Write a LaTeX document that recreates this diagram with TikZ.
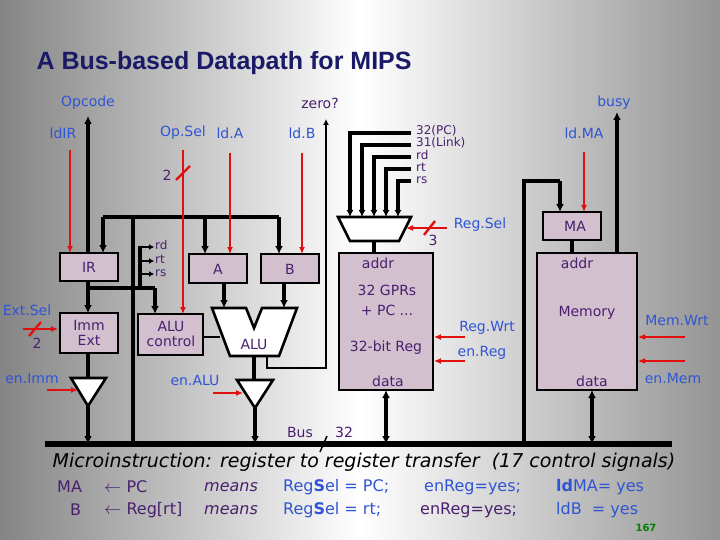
\documentclass[tikz,border=0pt]{standalone}
\usepackage{fontspec}
\setmainfont{DejaVu Sans}
\newfontfamily\titlefont{Liberation Sans}
\usetikzlibrary{arrows.meta}
\definecolor{lblue}{HTML}{2F55D4}
\definecolor{dpurp}{HTML}{4A1F6E}
\definecolor{boxf}{HTML}{D3C0CF}
\definecolor{sred}{HTML}{E01010}
\definecolor{ttl}{HTML}{1A1A66}
\begin{document}
\begin{tikzpicture}[x=1pt,y=-1pt,
  box/.style={draw=black,line width=2.6pt,fill=boxf},
  bl/.style={text=lblue,font=\fontsize{14}{14}\selectfont,inner sep=0},
  pl/.style={text=dpurp,font=\fontsize{14}{14}\selectfont,inner sep=0},
  sm/.style={text=dpurp,font=\fontsize{12}{12}\selectfont,inner sep=0,anchor=west},
  wire/.style={line width=3.4pt},
  warr/.style={line width=3.4pt,-{Latex[length=8pt,width=8pt]}},
  thin/.style={line width=1.8pt},
  rarr/.style={draw=sred,line width=1.2pt,-{Latex[length=7pt,width=6pt]}},
  slash/.style={draw=sred,line width=2.4pt}]
\useasboundingbox (0,0) rectangle (720,540);
\shade[left color=black!48,right color=black!42,middle color=white] (0,0) rectangle (720,540);
\node[anchor=west,text=ttl,font=\titlefont\bfseries\fontsize{25}{25}\selectfont] (title) at (33,63) {A Bus-based Datapath for MIPS};

% boxes
\draw[box] (60,253) rectangle (118,281); \node[pl] (ir) at (89,267) {IR};
\draw[box] (60,313) rectangle (118,353); \node[pl,align=center] (imm) at (89,333) {Imm\\[1pt]Ext};
\draw[box] (138,314) rectangle (203,355); \node[pl,align=center] (aluc) at (171,334) {ALU\\[1pt]control};
\draw[box] (189,254) rectangle (247,283); \node[pl] (a) at (218,269) {A};
\draw[box] (261,254) rectangle (319,283); \node[pl] (b) at (290,269) {B};
\draw[box] (339,253) rectangle (433,390);
\node[pl] (raddr) at (378,263) {addr};
\node[pl,align=center] (gpr) at (387,300) {32 GPRs\\[6pt]+ PC ...};
\node[pl] (r32) at (386,348) {32-bit Reg};
\node[pl] (rdata) at (388,381) {data};
\draw[box] (537,253) rectangle (637,390);
\node[pl] (maddr) at (577,263) {addr};
\node[pl] (mem) at (587,313) {Memory};
\node[pl] (mdata) at (592,381) {data};
\draw[box] (543,212) rectangle (601,240); \node[pl] (ma) at (575,226) {MA};

% ALU
\draw[line width=2.6pt,fill=white] (212,308) -- (246,308) -- (254,328) -- (262,308) -- (297,308) -- (279,356) -- (230,356) -- cycle;
\node[pl] (alu) at (254,344) {ALU};
% register mux
\draw[line width=2.6pt,fill=white] (338,217) -- (411,217) -- (399,241) -- (350,241) -- cycle;
% tristates
\draw[line width=2.6pt,fill=white] (71,378) -- (106,378) -- (88,406) -- cycle;
\draw[line width=2.6pt,fill=white] (237,380) -- (273,380) -- (255,408) -- cycle;

% bus
\draw[line width=6pt] (45,444) -- (672,444);
\node[pl] (bus) at (300,432) {Bus};
\node[pl] (b32) at (344,432) {32};
\draw[line width=1.5pt] (320,452) -- (327,436);

% IR connections
\draw[warr] (88,253) -- (88,116);
\node[bl] (opc) at (88,103) {Opcode};
\draw[wire] (133,444) -- (133,217);
\draw[wire] (103,217) -- (279,217);
\draw[warr] (103,217) -- (103,253);
\draw[warr] (205,217) -- (205,254);
\draw[warr] (279,217) -- (279,254);
\draw[warr] (88,281) -- (88,313);
\draw[wire] (88,288) -- (155,288);
\draw[warr] (155,288) -- (155,314);
\draw[wire] (140,288) -- (140,246);
\foreach \yy in {247,261,274} \draw[line width=2.4pt,-{Latex[length=5pt,width=6pt]}] (139,\yy) -- (154,\yy);
\node[sm] (rd1) at (155,245) {rd};
\node[sm] (rt1) at (155,259) {rt};
\node[sm] (rs1) at (155,273) {rs};
\draw[warr] (224,283) -- (224,308);
\draw[warr] (284,283) -- (284,308);
\draw[thin] (203,337) -- (220,337);
\draw[wire] (254,356) -- (254,380);
\draw[warr] (255,408) -- (255,444);
\draw[wire] (88,353) -- (88,378);
\draw[warr] (88,406) -- (88,444);
\draw[thin,-{Latex[length=6pt,width=6pt]}] (267,356) -- (267,368) -- (326,368) -- (326,119);
\node[pl] (zero) at (320,103) {zero?};

% control labels
\node[bl] (ldir) at (63,133) {ldIR}; \draw[rarr] (70,150) -- (70,253);
\node[bl] (opsel) at (183,133) {Op.Sel};
\draw[rarr] (183,150) -- (183,314);
\draw[slash] (176,180) -- (190,166); \node[pl] (two1) at (167,175) {2};
\node[bl] (lda) at (230,133) {ld.A}; \draw[rarr] (230,153) -- (230,254);
\node[bl] (ldb) at (302,133) {ld.B}; \draw[rarr] (302,153) -- (302,254);
\node[bl] (extsel) at (27,310) {Ext.Sel};
\draw[rarr] (23,329) -- (58,329); \draw[slash] (29,336) -- (41,322);
\node[pl] (two2) at (37,343) {2};
\node[bl] (enimm) at (32,378) {en.Imm}; \draw[rarr] (47,390) -- (78,390);
\node[bl] (enalu) at (195,380) {en.ALU}; \draw[rarr] (213,393) -- (243,393);

% register file inputs
\foreach \xx/\yy in {350/133,362/145,374/157,386/169,398/181}
  \draw[line width=3.2pt,-{Latex[length=7pt,width=7pt]}] (411,\yy) -- (\xx,\yy) -- (\xx,217);
\node[sm] (l1) at (416,131) {32(PC)};
\node[sm] (l2) at (416,143) {31(Link)};
\node[sm] (l3) at (416,155) {rd};
\node[sm] (l4) at (416,167) {rt};
\node[sm] (l5) at (416,180) {rs};
\draw[wire] (374,241) -- (374,253);
\draw[rarr] (447,228) -- (406,228); \draw[slash] (424,235) -- (435,221);
\node[pl] (three) at (433,240) {3};
\node[bl] (regsel) at (480,225) {Reg.Sel};
\node[bl] (regwrt) at (487,328) {Reg.Wrt}; \draw[rarr] (465,337) -- (434,337);
\node[bl] (enreg) at (482,353) {en.Reg}; \draw[rarr] (465,361) -- (434,361);
\draw[line width=3.4pt,{Latex[length=8pt,width=8pt]}-{Latex[length=8pt,width=8pt]}] (386,390) -- (386,444);

% memory
\draw[wire] (524,444) -- (524,181) -- (560,181);
\draw[warr] (560,181) -- (560,212);
\node[bl] (ldma) at (584,133) {ld.MA}; \draw[rarr] (584,152) -- (584,212);
\draw[wire] (572,240) -- (572,253);
\draw[warr] (617,253) -- (617,112);
\node[bl] (busy) at (614,103) {busy};
\node[bl] (memwrt) at (677,320) {Mem.Wrt}; \draw[rarr] (685,337) -- (638,337);
\draw[rarr] (685,361) -- (638,361);
\node[bl] (enmem) at (673,378) {en.Mem};
\draw[line width=3.4pt,{Latex[length=8pt,width=8pt]}-{Latex[length=8pt,width=8pt]}] (592,390) -- (592,444);

% bottom text
\node[font=\itshape\fontsize{19}{19}\selectfont,inner sep=0] (micro) at (364,462) {Microinstruction: register to register transfer~~(17 control signals)};
\begin{scope}[every node/.style={anchor=west,inner sep=0,font=\fontsize{16}{16}\selectfont}]
\node[text=dpurp] (r1a) at (57,487) {MA};
\node[text=dpurp] (r1b) at (104,487) {$\leftarrow$ PC};
\node[text=dpurp,font=\itshape\fontsize{16}{16}\selectfont] (r1c) at (204,487) {means};
\node[text=lblue] (r1d) at (283,487) {Reg\textbf{S}el = PC;};
\node[text=lblue] (r1e) at (424,487) {enReg=yes;};
\node[text=lblue] (r1f) at (556,487) {\textbf{ld}MA= yes};
\node[text=dpurp] (r2a) at (70,510) {B};
\node[text=dpurp] (r2b) at (104,510) {$\leftarrow$ Reg[rt]};
\node[text=dpurp,font=\itshape\fontsize{16}{16}\selectfont] (r2c) at (204,510) {means};
\node[text=lblue] (r2d) at (283,510) {Reg\textbf{S}el = rt;};
\node[text=dpurp] (r2e) at (420,510) {enReg=yes;};
\node[text=lblue] (r2f) at (556,510) {ldB~~= yes};
\end{scope}
\node[text=green!50!black,font=\bfseries\fontsize{10}{10}\selectfont,inner sep=0] (pg) at (646,528) {167};
\end{tikzpicture}
\end{document}
